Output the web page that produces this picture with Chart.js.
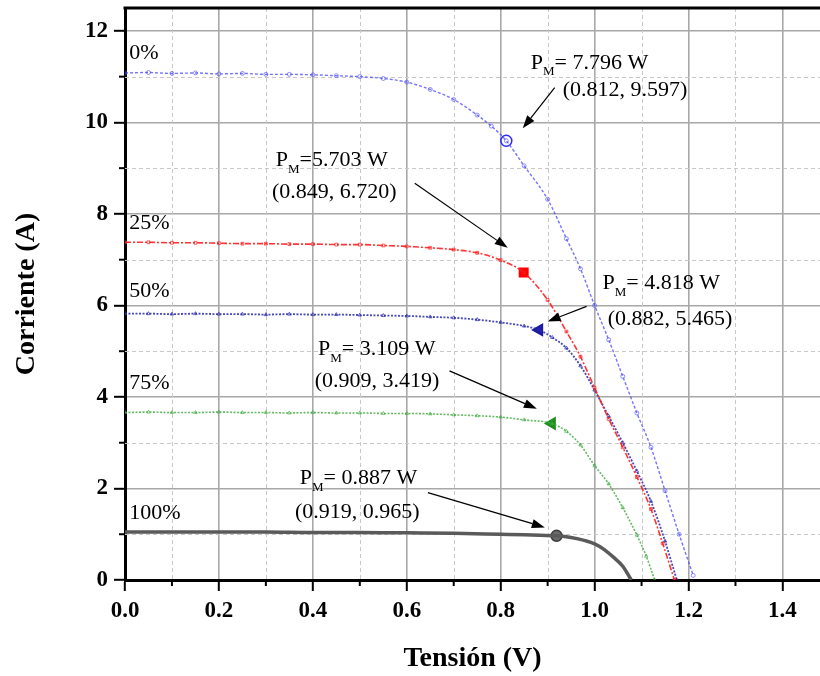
<!DOCTYPE html>
<html>
<head>
<meta charset="utf-8">
<script src="https://cdn.jsdelivr.net/npm/chart.js@4"></script>
<style>
  body { margin: 0; background: #fff; overflow: hidden; }
  #wrap { width: 820px; height: 676px; }
  canvas { display: block; }
</style>
</head>
<body>
<div id="wrap"><canvas id="iv" width="820" height="676"></canvas></div>
<script>
// curvas I-V por porcentaje de sombra
var v0 = [0, 0.05, 0.1, 0.15, 0.2, 0.25, 0.3, 0.35, 0.4, 0.45, 0.5, 0.55, 0.6, 0.65, 0.7, 0.75, 0.78, 0.812, 0.85, 0.9, 0.94, 0.97, 1.0, 1.03, 1.06, 1.09, 1.12, 1.15, 1.18, 1.21];
var i0 = [11.08, 11.09, 11.07, 11.08, 11.06, 11.07, 11.05, 11.05, 11.04, 11.02, 11.0, 10.96, 10.88, 10.72, 10.5, 10.16, 9.92, 9.597, 9.05, 8.32, 7.46, 6.8, 6.0, 5.25, 4.45, 3.65, 2.9, 1.95, 1.0, 0.1];

var v25 = [0, 0.05, 0.1, 0.15, 0.2, 0.25, 0.3, 0.35, 0.4, 0.45, 0.5, 0.55, 0.6, 0.65, 0.7, 0.75, 0.8, 0.849, 0.9, 0.94, 0.97, 1.0, 1.03, 1.06, 1.09, 1.12, 1.145, 1.17];
var i25 = [7.38, 7.38, 7.37, 7.37, 7.36, 7.35, 7.35, 7.34, 7.34, 7.33, 7.33, 7.31, 7.29, 7.26, 7.22, 7.15, 6.99, 6.72, 6.12, 5.43, 4.88, 4.2, 3.52, 2.9, 2.25, 1.55, 0.8, 0.0];

var v50 = [0, 0.05, 0.1, 0.15, 0.2, 0.25, 0.3, 0.35, 0.4, 0.45, 0.5, 0.55, 0.6, 0.65, 0.7, 0.75, 0.8, 0.85, 0.882, 0.91, 0.94, 0.97, 1.0, 1.03, 1.06, 1.09, 1.12, 1.15, 1.175];
var i50 = [5.82, 5.82, 5.81, 5.82, 5.81, 5.81, 5.8, 5.81, 5.8, 5.8, 5.79, 5.78, 5.77, 5.75, 5.73, 5.69, 5.63, 5.55, 5.465, 5.3, 5.07, 4.68, 4.15, 3.58, 3.0, 2.38, 1.72, 0.85, 0.0];

var v75 = [0, 0.05, 0.1, 0.15, 0.2, 0.25, 0.3, 0.35, 0.4, 0.45, 0.5, 0.55, 0.6, 0.65, 0.7, 0.75, 0.8, 0.85, 0.909, 0.94, 0.97, 1.0, 1.03, 1.06, 1.09, 1.11, 1.128];
var i75 = [3.66, 3.67, 3.66, 3.66, 3.67, 3.66, 3.66, 3.65, 3.66, 3.65, 3.65, 3.64, 3.64, 3.63, 3.61, 3.59, 3.56, 3.5, 3.419, 3.25, 2.95, 2.5, 2.1, 1.58, 0.98, 0.52, 0.0];

var v100 = [0, 0.1, 0.2, 0.3, 0.4, 0.5, 0.6, 0.7, 0.8, 0.85, 0.919, 0.95, 0.98, 1.0, 1.02, 1.04, 1.06, 1.078];
var i100 = [1.05, 1.05, 1.05, 1.05, 1.04, 1.04, 1.03, 1.02, 1.0, 0.99, 0.965, 0.93, 0.86, 0.79, 0.67, 0.5, 0.3, 0.0];

// puntos de maxima potencia
var sombra = ['0%', '25%', '50%', '75%', '100%'];
var mppV = [0.812, 0.849, 0.882, 0.909, 0.919];
var mppI = [9.597, 6.720, 5.465, 3.419, 0.965];
var mppP = [7.796, 5.703, 4.818, 3.109, 0.887];

var xTicks = [0, 0.2, 0.4, 0.6, 0.8, 1.0, 1.2, 1.4];
var yTicks = [0, 2, 4, 6, 8, 10, 12];

function pts(vs, is) {
  return vs.map(function(v, k) { return { x: v, y: is[k] }; });
}

var serif = "'Liberation Serif', 'Times New Roman', serif";

var curveStyle = [
  { color: 'rgba(70,70,255,0.75)', dash: [3, 2], w: 1.4, ps: 'circle', r: 2 },
  { color: 'rgba(255,30,30,0.9)', dash: [6, 2, 2, 2], w: 1.6, ps: 'rect', r: 2 },
  { color: 'rgba(40,40,170,0.85)', dash: [2, 1.5], w: 1.8, ps: 'triangle', r: 2 },
  { color: 'rgba(60,170,60,0.8)', dash: [2, 1.5], w: 1.6, ps: 'triangle', r: 2 },
  { color: '#5a5a5a', dash: [], w: 3.5, ps: 'circle', r: 0 }
];
var series = [[v0, i0], [v25, i25], [v50, i50], [v75, i75], [v100, i100]];

var datasets = series.map(function(s, k) {
  var st = curveStyle[k];
  return {
    label: sombra[k],
    data: pts(s[0], s[1]),
    showLine: true,
    borderColor: st.color,
    borderWidth: st.w,
    borderDash: st.dash,
    cubicInterpolationMode: 'monotone',
    pointStyle: st.ps,
    pointRadius: st.r,
    pointBorderWidth: 0.8,
    pointBorderColor: st.color,
    pointBackgroundColor: 'rgba(0,0,0,0)'
  };
});

var mppStyle = [
  { ps: 'circle', r: 5.5, bg: 'rgba(0,0,0,0)', bc: '#2a2aff', rot: 0 },
  { ps: 'rect', r: 6, bg: '#ff0000', bc: '#ff0000', rot: 0 },
  { ps: 'triangle', r: 6.5, bg: '#1c1ca0', bc: '#1c1ca0', rot: 270 },
  { ps: 'triangle', r: 6.5, bg: '#1f8f1f', bc: '#1f8f1f', rot: 30 },
  { ps: 'circle', r: 5.5, bg: '#6a6a6a', bc: '#3a3a3a', rot: 0 }
];
mppV.forEach(function(v, k) {
  var st = mppStyle[k];
  datasets.push({
    label: 'PM ' + sombra[k],
    data: [{ x: v, y: mppI[k] }],
    showLine: false,
    pointStyle: st.ps,
    pointRadius: st.r,
    pointRotation: st.rot,
    pointBorderWidth: 1.5,
    pointBackgroundColor: st.bg,
    pointBorderColor: st.bc
  });
});

// posiciones de los textos (en unidades de los ejes)
var notas = [
  { sep: '= ', p: [0.864, 11.30], c: [0.932, 10.70], from: [0.915, 10.76], to: [0.847, 9.87] },
  { sep: '=',  p: [0.321, 9.17],  c: [0.313, 8.48],  from: [0.617, 8.67],  to: [0.815, 7.26] },
  { sep: '= ', p: [1.017, 6.48],  c: [1.028, 5.70],  from: [0.983, 5.98],  to: [0.900, 5.65] },
  { sep: '= ', p: [0.411, 5.04],  c: [0.404, 4.35],  from: [0.691, 4.57],  to: [0.877, 3.74] },
  { sep: '= ', p: [0.372, 2.22],  c: [0.362, 1.48],  from: [0.645, 1.91],  to: [0.894, 1.15] }
];
var etiquetas = [11.52, 7.80, 6.30, 4.30, 1.46];

var extras = {
  id: 'extras',
  afterLayout: function(chart) {
    // el area de datos llega hasta el borde derecho del lienzo
    var xs = chart.scales.x, a = chart.chartArea;
    a.right = chart.width;
    a.width = a.right - a.left;
    xs.right = chart.width;
    xs.width = xs.right - xs.left;
    xs.configure();
  },
  beforeDatasetsDraw: function(chart) {
    var ctx = chart.ctx, a = chart.chartArea;
    var xs = chart.scales.x, ys = chart.scales.y;
    ctx.save();
    ctx.strokeStyle = '#c8c8c8';
    ctx.lineWidth = 1;
    ctx.setLineDash([4, 3]);
    for (var v = 0.1; v < 1.48; v += 0.2) {
      var px = Math.round(xs.getPixelForValue(v)) + 0.5;
      ctx.beginPath(); ctx.moveTo(px, a.top); ctx.lineTo(px, a.bottom); ctx.stroke();
    }
    for (var y = 1; y < 12.5; y += 2) {
      var py = Math.round(ys.getPixelForValue(y)) + 0.5;
      ctx.beginPath(); ctx.moveTo(a.left, py); ctx.lineTo(a.right, py); ctx.stroke();
    }
    ctx.setLineDash([]);
    ctx.strokeStyle = '#000';
    ctx.lineWidth = 2;
    for (v = 0.1; v < 1.48; v += 0.2) {
      px = xs.getPixelForValue(v);
      ctx.beginPath(); ctx.moveTo(px, a.bottom); ctx.lineTo(px, a.bottom + 6); ctx.stroke();
    }
    for (y = 1; y < 12.5; y += 2) {
      py = ys.getPixelForValue(y);
      ctx.beginPath(); ctx.moveTo(a.left, py); ctx.lineTo(a.left - 6, py); ctx.stroke();
    }
    ctx.lineWidth = 3;
    ctx.beginPath(); ctx.moveTo(a.left - 1.5, a.top); ctx.lineTo(a.right, a.top); ctx.stroke();
    ctx.restore();
  },
  afterDatasetsDraw: function(chart) {
    var ctx = chart.ctx;
    var xs = chart.scales.x, ys = chart.scales.y;
    function X(v) { return xs.getPixelForValue(v); }
    function Y(v) { return ys.getPixelForValue(v); }
    ctx.save();
    ctx.fillStyle = '#000';
    ctx.textBaseline = 'middle';
    ctx.textAlign = 'left';
    ctx.font = '22px ' + serif;
    sombra.forEach(function(s, k) {
      ctx.fillText(s, X(0.009), Y(etiquetas[k]));
    });
    notas.forEach(function(n, k) {
      var x = X(n.p[0]), y = Y(n.p[1]);
      ctx.font = '22px ' + serif;
      ctx.fillText('P', x, y);
      var w = ctx.measureText('P').width;
      ctx.font = '13px ' + serif;
      ctx.fillText('M', x + w, y + 9);
      var w2 = ctx.measureText('M').width;
      ctx.font = '22px ' + serif;
      ctx.fillText(n.sep + mppP[k].toFixed(3) + ' W', x + w + w2, y);
      ctx.fillText('(' + mppV[k].toFixed(3) + ', ' + mppI[k].toFixed(3) + ')', X(n.c[0]), Y(n.c[1]));
      // flecha
      var x1 = X(n.from[0]), y1 = Y(n.from[1]), x2 = X(n.to[0]), y2 = Y(n.to[1]);
      var ang = Math.atan2(y2 - y1, x2 - x1);
      var L = 13, H = 4.5;
      ctx.strokeStyle = '#000';
      ctx.lineWidth = 1.2;
      ctx.beginPath(); ctx.moveTo(x1, y1);
      ctx.lineTo(x2 - L * Math.cos(ang), y2 - L * Math.sin(ang)); ctx.stroke();
      ctx.beginPath();
      ctx.moveTo(x2, y2);
      ctx.lineTo(x2 - L * Math.cos(ang) + H * Math.sin(ang), y2 - L * Math.sin(ang) - H * Math.cos(ang));
      ctx.lineTo(x2 - L * Math.cos(ang) - H * Math.sin(ang), y2 - L * Math.sin(ang) + H * Math.cos(ang));
      ctx.closePath(); ctx.fill();
    });
    ctx.restore();
  }
};

new Chart(document.getElementById('iv'), {
  type: 'scatter',
  data: { datasets: datasets },
  plugins: [extras],
  options: {
    responsive: false,
    animation: false,
    layout: { padding: { top: 6, right: 0, left: 0, bottom: 0 } },
    plugins: { legend: { display: false }, tooltip: { enabled: false } },
    scales: {
      x: {
        type: 'linear',
        min: 0,
        max: 1.48,
        afterFit: function(s) { s.height = 96; s.paddingLeft = 0; s.paddingRight = 0; },
        afterBuildTicks: function(s) { s.ticks = xTicks.map(function(v) { return { value: v }; }); },
        ticks: {
          color: '#000',
          padding: 6,
          font: { family: serif, size: 23, weight: 'bold' },
          callback: function(v) { return v.toFixed(1); }
        },
        grid: { color: '#a8a8a8', lineWidth: 1.6, tickColor: '#000', tickLength: 11, tickWidth: 2 },
        border: { color: '#000', width: 3 },
        title: {
          display: true,
          text: 'Tensión (V)',
          color: '#000',
          font: { family: serif, size: 28, weight: 'bold' },
          padding: { top: 0, bottom: 0 }
        }
      },
      y: {
        type: 'linear',
        min: 0,
        max: 12.5,
        afterFit: function(s) { s.width = 125; s.paddingTop = 0; s.paddingBottom = 0; },
        afterBuildTicks: function(s) { s.ticks = yTicks.map(function(v) { return { value: v }; }); },
        ticks: {
          color: '#000',
          padding: 6,
          font: { family: serif, size: 23, weight: 'bold' },
          callback: function(v) { return v; }
        },
        grid: { color: '#a8a8a8', lineWidth: 1.6, tickColor: '#000', tickLength: 11, tickWidth: 2 },
        border: { color: '#000', width: 3 },
        title: {
          display: true,
          text: 'Corriente (A)',
          color: '#000',
          font: { family: serif, size: 28, weight: 'bold' },
          padding: { top: 10, bottom: 0 }
        }
      }
    }
  }
});
</script>
</body>
</html>
